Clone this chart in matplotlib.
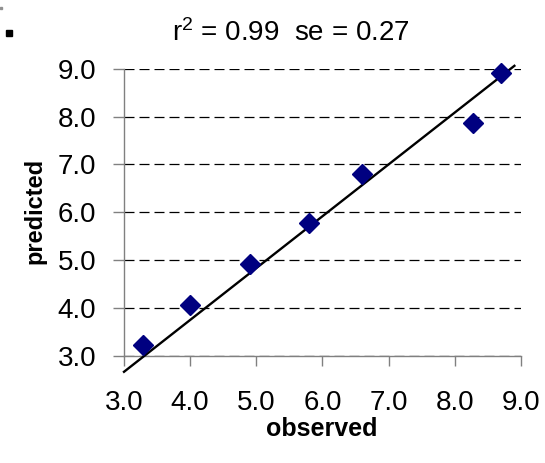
import matplotlib
matplotlib.use("Agg")
import matplotlib.pyplot as plt
from matplotlib.patches import Rectangle

plt.rcParams['font.family'] = ['Liberation Sans', 'DejaVu Sans']
plt.rcParams['mathtext.fontset'] = 'custom'
plt.rcParams['mathtext.rm'] = 'Liberation Sans'

observed = [3.28, 4.00, 4.91, 5.80, 6.60, 8.28, 8.70]
predicted = [3.23, 4.06, 4.93, 5.77, 6.81, 7.86, 8.92]
fit_x = [3.0, 8.9]
fit_y = [2.67, 9.06]
ticks = [3.0, 4.0, 5.0, 6.0, 7.0, 8.0, 9.0]
tick_labels = ["3.0", "4.0", "5.0", "6.0", "7.0", "8.0", "9.0"]
title = r"$\mathregular{r^2}$ = 0.99  se = 0.27"

W, H = 545, 463
fig = plt.figure(figsize=(W / 100, H / 100), dpi=100)
ax = fig.add_axes([124 / W, 1 - 356 / H, (521 - 124) / W, (356 - 68.7) / H])

ax.set_xlim(3.0, 9.0)
ax.set_ylim(3.0, 9.0)

ax.yaxis.grid(True, color='black', linestyle=(0, (8, 4)), linewidth=0.9)
ax.set_axisbelow(True)

ax.plot(fit_x, fit_y, color='black', linewidth=1.7, clip_on=False, zorder=3)
ax.plot(observed, predicted, linestyle='none', marker='D', markersize=10,
        color='#000080', markeredgecolor='#000080', clip_on=False, zorder=4)

ax.set_xticks(ticks)
ax.set_xticklabels(tick_labels)
ax.set_yticks(ticks)
ax.set_yticklabels(tick_labels)

for s in ['top', 'right']:
    ax.spines[s].set_visible(False)
for s in ['left', 'bottom']:
    ax.spines[s].set_color('#808080')
    ax.spines[s].set_linewidth(1.0)

ax.tick_params(axis='x', direction='out', length=7, width=1, color='#808080',
               labelsize=20, pad=17.5)
ax.tick_params(axis='y', direction='out', length=8, width=1, color='#808080',
               labelsize=20, pad=12)

fig.text(35 / W, 1 - 211 / H, "predicted", rotation=90, fontsize=17,
         fontweight='bold', ha='center', va='center')
fig.text(322 / W, 1 - 429 / H, "observed", fontsize=18, fontweight='bold',
         ha='center', va='center')
fig.text(291 / W, 1 - 41 / H, title, fontsize=20, ha='center', va='baseline')

fig.add_artist(Rectangle((6 / W, 1 - 36 / H), 6 / W, 6 / H,
                         transform=fig.transFigure, color='black'))
fig.add_artist(Rectangle((0 / W, 1 - 9 / H), 2 / W, 2 / H,
                         transform=fig.transFigure, color='#909090'))

fig.savefig("out.png", dpi=100)
